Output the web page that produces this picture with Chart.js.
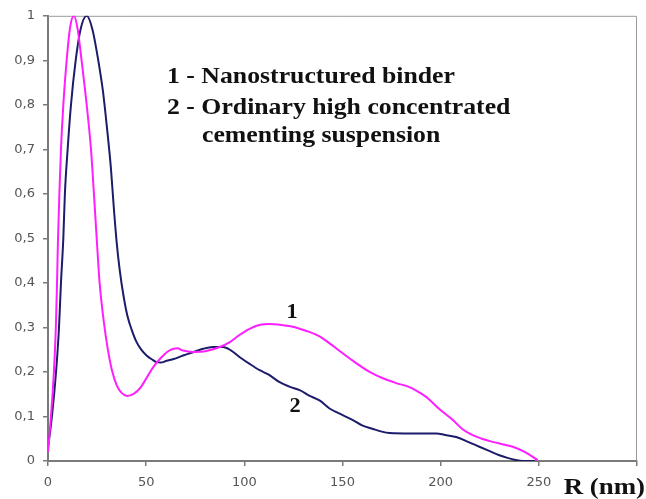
<!DOCTYPE html>
<html>
<head>
<meta charset="utf-8">
<script src="https://cdn.jsdelivr.net/npm/chart.js@4/dist/chart.umd.min.js"></script>
<style>
  html, body { margin: 0; padding: 0; background: #fff; }
  #wrap { width: 646px; height: 499px; position: relative; }
</style>
</head>
<body>
<div id="wrap"><canvas id="poreChart"></canvas></div>
<script>
// curve 1 - nanostructured binder
const rValues1 = [0, 1.5, 3.0, 4.0, 4.6, 5.1, 5.8, 6.6, 7.8, 9.5, 11.3, 13.2, 15.1, 17.1, 19.7, 21.9, 23.4, 24.8,
  26.3, 28.5, 30.5, 32.5, 35, 37.5, 40.3, 44, 46.8, 50, 53.6, 57.8, 61, 64, 66, 68.8, 73.9, 80.7, 87.5, 92.6,
  97.5, 102.7, 108, 113, 118, 124, 128.2, 133, 138.3, 142.6, 147.7, 155, 163.8, 170, 177.4, 184.1, 188, 192.6,
  199, 206.2, 211, 216.3, 221, 226.5, 232, 236.7, 243, 249.4];
const series1 = [0.02, 0.1, 0.2, 0.3, 0.4, 0.5, 0.6, 0.7, 0.8, 0.9, 0.975, 1.0, 0.97, 0.9, 0.8, 0.7, 0.6, 0.5,
  0.4, 0.31, 0.25, 0.205, 0.17, 0.153, 0.146, 0.152, 0.163, 0.185, 0.211, 0.233, 0.246, 0.252, 0.253, 0.248,
  0.245, 0.247, 0.256, 0.267, 0.283, 0.297, 0.306, 0.308, 0.306, 0.302, 0.297, 0.29, 0.28, 0.267, 0.25, 0.226,
  0.2, 0.187, 0.175, 0.166, 0.157, 0.144, 0.118, 0.092, 0.072, 0.058, 0.05, 0.043, 0.037, 0.032, 0.02, 0.002];

// curve 2 - ordinary high concentrated cementing suspension
const rValues2 = [0, 2, 4.1, 5.6, 6.6, 7.8, 8.6, 10, 11.7, 14.1, 16.6, 19.7, 22.6, 25.6, 28, 30, 32, 33.5, 35,
  36.5, 38.5, 40.5, 42.6, 45, 47.5, 50.2, 53, 55.3, 57.5, 60.4, 64, 68.8, 73, 79, 84, 89.2, 93, 97.7, 102.7,
  107.8, 112, 118, 123, 128.2, 133, 138.3, 143.4, 147.7, 155.3, 160, 165.5, 170, 174, 185, 197.7, 203, 207.9,
  214, 219.7, 225, 229.9, 234, 237.5, 242, 248];
const series2 = [0.03, 0.1, 0.2, 0.3, 0.4, 0.5, 0.6, 0.7, 0.8, 0.9, 0.97, 1.0, 0.97, 0.9, 0.83, 0.75, 0.66,
  0.57, 0.49, 0.43, 0.37, 0.325, 0.295, 0.268, 0.25, 0.237, 0.228, 0.222, 0.221, 0.225, 0.229, 0.237, 0.243,
  0.252, 0.256, 0.256, 0.249, 0.233, 0.218, 0.204, 0.195, 0.177, 0.167, 0.159, 0.147, 0.136, 0.118, 0.108,
  0.092, 0.08, 0.072, 0.066, 0.063, 0.062, 0.062, 0.058, 0.054, 0.043, 0.032, 0.022, 0.013, 0.007, 0.003, 0, 0];

const yTickLabels = ['0', '0,1', '0,2', '0,3', '0,4', '0,5', '0,6', '0,7', '0,8', '0,9', '1'];
const xTickLabels = ['0', '50', '100', '150', '200', '250', ''];
const legendLines = ['1 - Nanostructured binder', '2 - Ordinary high concentrated', 'cementing suspension'];
const curveNames = ['1', '2'];
const axisTitle = 'R (nm)';

const toPoints = (xs, ys) => xs.map((x, i) => ({ x: x, y: ys[i] }));

// draws stretched bold serif text like the scanned figure
const serifText = (ctx, text, x, y, size, align) => {
  ctx.save();
  ctx.font = 'bold ' + size + 'px "Liberation Serif", "Times New Roman", serif';
  ctx.fillStyle = '#111';
  ctx.textBaseline = 'alphabetic';
  ctx.textAlign = align || 'left';
  ctx.translate(x, y);
  ctx.scale(1.12, 1);
  ctx.fillText(text, 0, 0);
  ctx.restore();
};

const framePlugin = {
  id: 'frame',
  beforeDatasetsDraw(chart) {
    const { ctx, chartArea } = chart;
    ctx.save();
    ctx.strokeStyle = '#9a9a9a';
    ctx.lineWidth = 1;
    ctx.beginPath();
    ctx.moveTo(chartArea.left, chartArea.top + 0.5);
    ctx.lineTo(chartArea.right - 0.5, chartArea.top + 0.5);
    ctx.lineTo(chartArea.right - 0.5, chartArea.bottom);
    ctx.stroke();
    ctx.restore();
  },
  afterDraw(chart) {
    const { ctx, scales } = chart;
    serifText(ctx, legendLines[0], 167, 83, 23);
    serifText(ctx, legendLines[1], 167, 114, 23);
    serifText(ctx, legendLines[2], 202, 142, 23);
    serifText(ctx, curveNames[0], scales.x.getPixelForValue(121.5), scales.y.getPixelForValue(0.322), 20);
    serifText(ctx, curveNames[1], scales.x.getPixelForValue(123), scales.y.getPixelForValue(0.11), 20);
    serifText(ctx, axisTitle, 645, 494, 24, 'right');
  }
};

const ctx = document.getElementById('poreChart').getContext('2d');
new Chart(ctx, {
  type: 'line',
  data: {
    datasets: [
      {
        label: curveNames[0],
        data: toPoints(rValues1, series1),
        borderColor: '#ff1eff',
        borderWidth: 2,
        pointRadius: 0,
        cubicInterpolationMode: 'monotone',
      },
      {
        label: curveNames[1],
        data: toPoints(rValues2, series2),
        borderColor: '#1c1c6b',
        borderWidth: 2,
        pointRadius: 0,
        cubicInterpolationMode: 'monotone',
      },
    ],
  },
  options: {
    responsive: true,
    maintainAspectRatio: false,
    animation: false,
    layout: { padding: { top: 14, right: 8, left: 0, bottom: 0 } },
    plugins: { legend: { display: false }, tooltip: { enabled: false } },
    scales: {
      x: {
        type: 'linear',
        min: 0,
        max: 300,
        ticks: {
          stepSize: 50,
          autoSkip: false,
          maxRotation: 0,
          padding: 9,
          color: '#555',
          font: { family: '"DejaVu Sans", sans-serif', size: 13 },
          callback: (value, index) => xTickLabels[index],
        },
        grid: { drawOnChartArea: false, tickLength: 5, color: '#7a7a7a', lineWidth: 1.5 },
        border: { display: true, color: '#7a7a7a', width: 2 },
        afterFit: scale => { scale.height = 38; },
      },
      y: {
        min: 0,
        max: 1,
        ticks: {
          stepSize: 0.1,
          padding: 8,
          color: '#555',
          font: { family: '"DejaVu Sans", sans-serif', size: 13 },
          callback: (value, index) => yTickLabels[index],
        },
        grid: { drawOnChartArea: false, tickLength: 5, color: '#7a7a7a', lineWidth: 1.5 },
        border: { display: true, color: '#7a7a7a', width: 2 },
        afterFit: scale => { scale.width = 48; },
      },
    },
  },
  plugins: [framePlugin],
});
</script>
</body>
</html>
